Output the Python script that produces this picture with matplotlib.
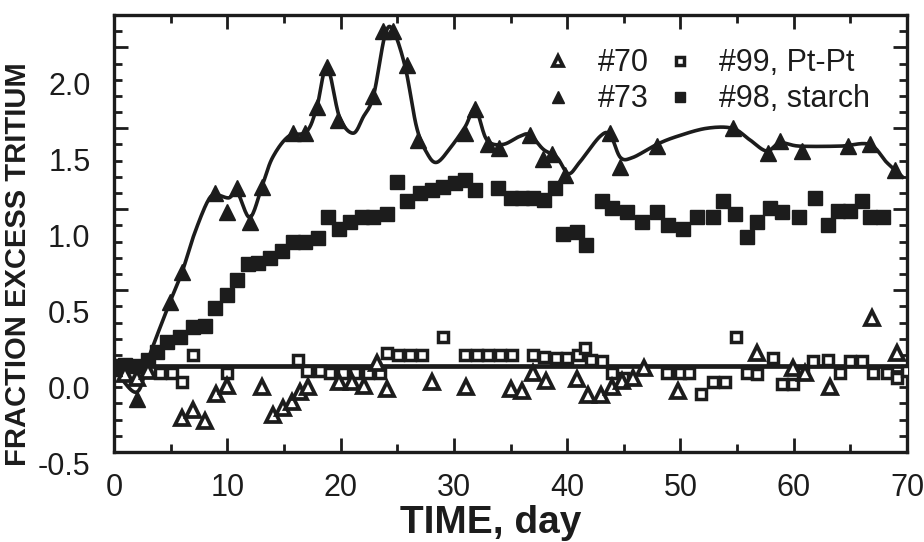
import numpy as np
import matplotlib
matplotlib.use("Agg")
import matplotlib.pyplot as plt
from matplotlib.ticker import MultipleLocator
from matplotlib.transforms import ScaledTranslation

# run #73, filled triangles
days73 = [0.0, 2.0, 4.9, 6.0, 8.9, 10.0, 10.9, 12.0, 13.1, 15.8, 16.9, 17.9, 18.8,
          19.8, 22.9, 23.7, 24.6, 25.9, 26.8, 31.0, 31.9, 33.0, 34.0, 36.7, 37.9,
          38.7, 39.8, 43.8, 44.7, 47.9, 54.6, 57.7, 58.8, 60.7, 64.8, 66.7, 68.9]
vals73 = [0.02, -0.17, 0.43, 0.61, 1.10, 0.98, 1.13, 0.92, 1.14, 1.47, 1.47, 1.63, 1.88,
          1.55, 1.70, 2.10, 2.10, 1.89, 1.43, 1.47, 1.62, 1.40, 1.38, 1.46, 1.31,
          1.34, 1.21, 1.47, 1.26, 1.39, 1.50, 1.35, 1.42, 1.36, 1.39, 1.40, 1.24]

# smooth curve drawn through run #73
fit_days = [0.0, 2.0, 3.2, 4.9, 6.0, 7.0, 8.2, 8.9, 10.1, 10.9, 12.0, 13.1, 14.0, 15.4,
            17.0, 17.9, 18.8, 19.9, 21.1, 22.0, 22.9, 23.9, 24.6, 25.7, 26.7, 27.6,
            28.5, 29.8, 31.0, 31.9, 32.9, 34.3, 35.8, 36.7, 37.9, 39.1, 40.1, 41.1,
            42.9, 43.8, 44.7, 45.8, 47.9, 49.7, 52.3, 54.6, 56.1, 57.6, 58.8, 60.5,
            64.1, 66.7, 68.2, 69.6]
fit_vals = [0.02, -0.13, 0.11, 0.42, 0.61, 0.83, 1.04, 1.09, 1.07, 1.10, 0.95, 1.15, 1.32, 1.45,
            1.48, 1.63, 1.88, 1.57, 1.47, 1.57, 1.70, 2.07, 2.11, 1.88, 1.51, 1.35,
            1.29, 1.39, 1.51, 1.62, 1.43, 1.40, 1.45, 1.46, 1.37, 1.32, 1.22, 1.29,
            1.45, 1.46, 1.32, 1.32, 1.40, 1.45, 1.50, 1.50, 1.43, 1.36, 1.41, 1.39,
            1.39, 1.40, 1.29, 1.20]

# run #98, starch, filled squares
days98 = [0.0, 1.0, 2.0, 3.0, 3.8, 4.7, 5.8, 7.0, 8.0, 8.9, 10.0, 10.9, 11.8, 12.7, 13.8,
          14.8, 15.8, 16.9, 18.0, 18.9, 19.9, 20.8, 21.9, 22.9, 24.1, 25.0, 25.9,
          27.0, 28.1, 29.0, 30.1, 31.0, 31.9, 33.9, 35.0, 36.0, 37.0, 38.0, 38.9,
          39.6, 40.9, 41.7, 43.1, 44.0, 45.3, 46.6, 47.9, 48.9, 50.2, 51.5, 52.9,
          53.8, 54.8, 55.9, 56.8, 57.9, 59.0, 60.5, 61.9, 63.0, 63.9, 65.0, 66.0,
          66.7, 67.9]
vals98 = [0.03, 0.04, 0.03, 0.07, 0.12, 0.18, 0.21, 0.27, 0.28, 0.39, 0.47, 0.56, 0.66, 0.67, 0.70,
          0.74, 0.80, 0.80, 0.82, 0.95, 0.88, 0.92, 0.95, 0.95, 0.97, 1.17, 1.05,
          1.10, 1.12, 1.14, 1.16, 1.18, 1.12, 1.13, 1.07, 1.07, 1.07, 1.06, 1.13,
          0.85, 0.86, 0.78, 1.05, 1.01, 0.98, 0.92, 0.98, 0.90, 0.88, 0.95, 0.95,
          1.05, 0.97, 0.83, 0.92, 1.01, 0.98, 0.95, 1.07, 0.90, 0.99, 0.99, 1.05,
          0.95, 0.95]

# run #99, Pt-Pt, open squares
days99 = [4.1, 5.1, 6.0, 7.0, 10.0, 16.2, 17.0, 18.2, 19.1, 20.2, 21.3, 22.4, 23.5,
          24.1, 25.1, 26.1, 27.2, 29.0, 31.0, 32.0, 33.0, 34.1, 35.1, 37.0, 38.0,
          39.0, 40.0, 41.0, 41.6, 42.1, 43.1, 44.0, 44.9, 48.8, 50.0, 50.8, 51.8,
          52.9, 53.9, 54.9, 55.9, 56.8, 58.2, 59.0, 59.9, 60.8, 61.7, 63.0, 64.1,
          65.0, 66.0, 67.0, 68.2, 69.1, 70.0]
vals99 = [-0.01, -0.01, -0.07, 0.10, -0.01, 0.07, 0.0, 0.0, -0.01, -0.01, -0.01, -0.01, -0.01,
          0.11, 0.10, 0.10, 0.10, 0.21, 0.10, 0.10, 0.10, 0.10, 0.10, 0.10, 0.09,
          0.08, 0.08, 0.10, 0.14, 0.07, 0.06, -0.01, -0.04, -0.01, -0.01, -0.01, -0.14,
          -0.07, -0.07, 0.21, -0.01, -0.02, 0.08, -0.08, -0.08, -0.01, 0.06, 0.07, -0.01,
          0.06, 0.06, -0.01, -0.01, -0.04, 0.0]

# run #70, open triangles
days70 = [1.0, 2.0, 3.0, 6.0, 7.0, 8.0, 9.0, 10.0, 13.1, 14.0, 14.9, 15.7, 16.4, 17.1,
          19.9, 21.0, 22.1, 23.2, 24.1, 28.1, 31.1, 35.0, 36.0, 37.0, 38.1, 40.9,
          41.8, 43.0, 44.0, 44.8, 45.8, 46.8, 49.8, 56.8, 59.9, 61.0, 63.2, 66.9, 69.1]
vals70 = [-0.02, -0.04, 0.0, -0.29, -0.24, -0.31, -0.14, -0.09, -0.10, -0.27, -0.23, -0.19, -0.13, -0.10,
          -0.07, -0.07, -0.09, 0.05, -0.11, -0.07, -0.10, -0.11, -0.12, -0.01, -0.06, -0.05,
          -0.15, -0.15, -0.10, -0.06, -0.04, 0.02, -0.12, 0.11, 0.02, -0.01, -0.10, 0.33, 0.11]

baseline = 0.03
ink = "#1c1c1c"


def catmull_rom(xs, ys, n=16):
    p = np.column_stack([xs, ys])
    p = np.vstack([p[0], p, p[-1]])
    t = np.linspace(0, 1, n, endpoint=False)[:, None]
    segs = []
    for i in range(1, len(p) - 2):
        p0, p1, p2, p3 = p[i - 1], p[i], p[i + 1], p[i + 2]
        segs.append(0.5 * (2 * p1 + (p2 - p0) * t
                           + (2 * p0 - 5 * p1 + 4 * p2 - p3) * t ** 2
                           + (3 * p1 - p0 - 3 * p2 + p3) * t ** 3))
    segs.append(p[-2][None])
    c = np.vstack(segs)
    return c[:, 0], c[:, 1]


plt.rcParams["font.family"] = ["Liberation Sans", "DejaVu Sans"]

fig = plt.figure(figsize=(9.24, 5.42), dpi=100)
ax = fig.add_axes([0.1234, 0.166, 0.8582, 0.8063])

ax.axhline(baseline, color=ink, lw=3.4, zorder=1)

cx, cy = catmull_rom(fit_days, fit_vals)
ax.plot(cx, cy, color=ink, lw=2.6, zorder=2)

ax.plot(days98, vals98, ls="none", marker="s", ms=9.8, color=ink, zorder=3,
        label="#98, starch")
ax.plot(days99, vals99, ls="none", marker="s", ms=7.5, mfc="white", mec=ink,
        mew=2.5, zorder=4, label="#99, Pt-Pt")
ax.plot(days70, vals70, ls="none", marker="^", ms=10.5, mfc="white", mec=ink,
        mew=2.7, zorder=4, label="#70")
ax.plot(days73, vals73, ls="none", marker="^", ms=11, color=ink, zorder=5,
        label="#73")

ax.set_xlim(0, 70)
ax.set_ylim(-0.5, 2.2)
ax.xaxis.set_major_locator(MultipleLocator(10))
ax.xaxis.set_minor_locator(MultipleLocator(5))
ax.yaxis.set_major_locator(MultipleLocator(0.5))
ax.yaxis.set_minor_locator(MultipleLocator(0.1))
ax.yaxis.set_major_formatter(plt.FormatStrFormatter("%.1f"))
ax.tick_params(which="both", direction="in", top=True, right=True, color=ink,
               width=2.0, labelsize=22, labelcolor=ink)
ax.tick_params(which="major", length=10)
ax.tick_params(which="minor", length=6)
ax.tick_params(axis="x", which="major", pad=15)
ax.tick_params(axis="y", which="major", pad=17)
for s in ax.spines.values():
    s.set_linewidth(2.4)
    s.set_color(ink)

# the scanned y tick labels sit a little below their ticks
fig.canvas.draw()
for tick in ax.yaxis.get_major_ticks():
    v = tick.get_loc()
    dy = (16 + 10 * v) / 100.0
    tick.label1.set_transform(tick.label1.get_transform()
                              + ScaledTranslation(0, -dy, fig.dpi_scale_trans))

ax.set_xlabel("TIME, day", fontsize=28, fontweight="bold", color=ink, va="top")
ax.xaxis.set_label_coords(0.475, -0.122)
ax.set_ylabel("FRACTION EXCESS TRITIUM", fontsize=21, fontweight="bold", color=ink)
ax.yaxis.set_label_coords(-0.103, 0.43)

h, l = ax.get_legend_handles_labels()
order = [l.index("#70"), l.index("#73"), l.index("#99, Pt-Pt"), l.index("#98, starch")]
ax.legend([h[i] for i in order], [l[i] for i in order], ncol=2, frameon=False,
          loc="upper left", bbox_to_anchor=(0.541, 0.924), fontsize=22,
          markerscale=0.75, handlelength=1.0, handletextpad=0.8,
          columnspacing=0.5, labelspacing=0.2, borderpad=0, borderaxespad=0,
          labelcolor=ink)

fig.savefig("out.png", dpi=100)
